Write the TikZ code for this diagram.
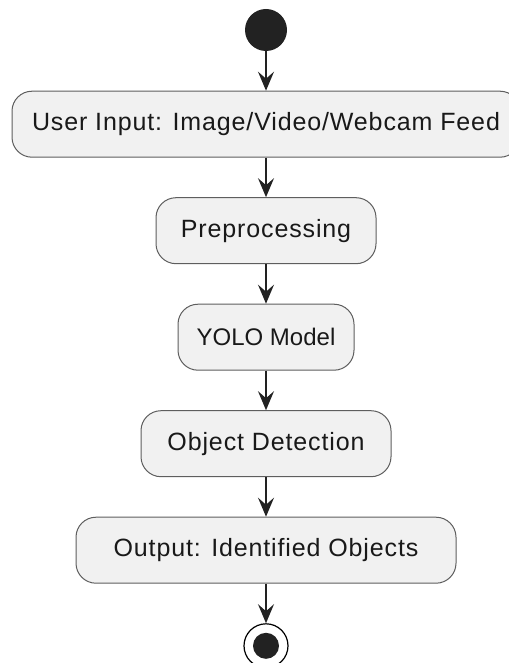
\documentclass[tikz,border=0pt]{standalone}
\usepackage{fontspec}
\newfontfamily\stepfont{Liberation Sans}[LetterSpace=3.5]
\newfontfamily\yolofont{Liberation Sans}
\usetikzlibrary{positioning,arrows.meta}
\definecolor{boxfill}{HTML}{F1F1F1}
\definecolor{boxline}{HTML}{5E5E5E}
\definecolor{ink}{HTML}{222222}

\begin{document}
\begin{tikzpicture}[
  node distance=39.5pt,
  activity/.style={draw=boxline, fill=boxfill, line width=1pt, rounded corners=20pt,
    minimum height=66pt, text=black!90, font=\stepfont\fontsize{25}{30}\selectfont},
  initial/.style={circle, fill=ink, minimum size=42pt, inner sep=0pt},
  final/.style={circle, draw=black, line width=1.2pt, minimum size=44pt, inner sep=0pt,
    path picture={\fill[ink] (path picture bounding box.center) circle (13pt);}},
  flow/.style={draw=ink, line width=1.6pt, -{Stealth[length=19pt, width=16pt, inset=7pt]}}
]
\useasboundingbox (0,0) rectangle (508pt,-663pt);
\node[initial] (start) at (266pt,-30pt) {};
\node[activity, minimum width=508pt, below=of start] (input) {User Input: Image/Video/Webcam Feed};
\node[activity, minimum width=220pt, below=of input] (prep) {Preprocessing};
\node[activity, minimum width=176pt, below=of prep, font=\yolofont\fontsize{24}{29}\selectfont] (yolo) {YOLO Model};
\node[activity, minimum width=250pt, below=of yolo] (detect) {Object Detection};
\node[activity, minimum width=380pt, below=of detect] (output) {Output: Identified Objects};
\node[final, below=of output] (stop) {};
\draw[flow] (start) -- (input);
\draw[flow] (input) -- (prep);
\draw[flow] (prep) -- (yolo);
\draw[flow] (yolo) -- (detect);
\draw[flow] (detect) -- (output);
\draw[flow] (output) -- (stop);
\end{tikzpicture}
\end{document}
